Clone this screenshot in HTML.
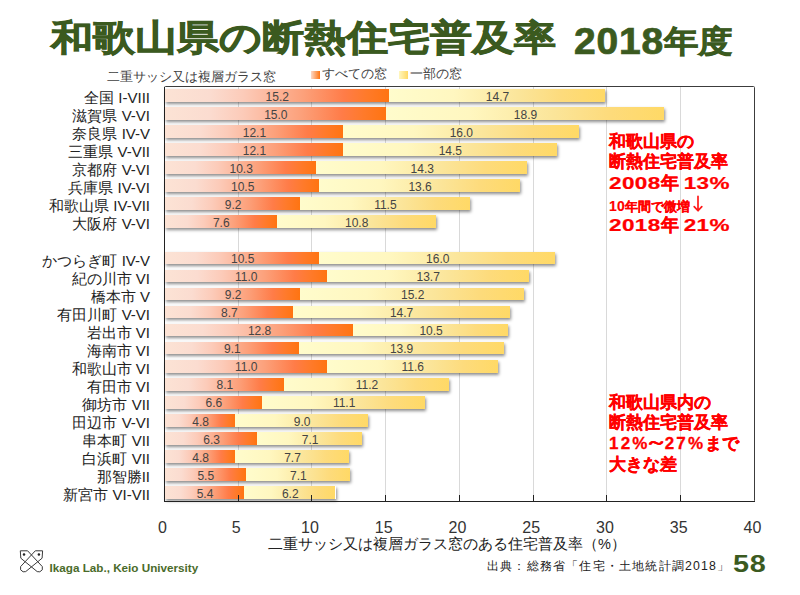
<!DOCTYPE html>
<html><head><meta charset="utf-8"><style>
*{margin:0;padding:0;box-sizing:border-box}
html,body{width:800px;height:595px;overflow:hidden;background:#fff}
body{position:relative;font-family:"Liberation Sans",sans-serif;color:#222}
.abs{position:absolute;white-space:nowrap}
#title{left:50.6px;top:17.3px;font-size:42px;font-weight:bold;color:#3b5a1f;line-height:50px;transform:scaleY(0.855);transform-origin:0 0;-webkit-text-stroke:0.9px #3b5a1f}
#title2{left:574px;top:18px;font-size:35.5px;font-weight:bold;color:#3b5a1f;line-height:42px;-webkit-text-stroke:0.8px #3b5a1f}
#title2 .d{display:inline-block;font-size:39px;letter-spacing:0.8px;transform:scaleY(0.93);transform-origin:0 85%;position:relative;top:1.5px}
#title2 .k{display:inline-block;font-size:34px;transform:scaleY(0.9);transform-origin:0 70%}
.leg{position:absolute;top:67.3px;font-size:12.6px;line-height:18px;color:#404040;white-space:nowrap}
.sw{position:absolute;top:70.5px;width:8.5px;height:8.5px}
#plot{position:absolute;left:164.4px;top:86.6px;width:590px;height:414.8px}
.gl{position:absolute;top:86.6px;height:414.8px;width:1px;background:#d9d9d9}
.bar{position:absolute;left:165.0px;height:12.8px;box-shadow:1px 2px 3px rgba(0,0,0,.45)}
.o,.y{position:absolute;top:0;height:100%;text-align:center;font-size:12px;line-height:12.8px;color:#444}
.o{left:0;background:linear-gradient(to right,#fce3d5 0%,#fbdcd0 20%,#fccbb9 35%,#fca07a 62%,#ff7c48 80%,#ff7a2a 90%,#ff7411 100%)}
.y{background:linear-gradient(to right,#fffccc 0%,#fff7c0 30%,#fbe59a 60%,#fddb7c 80%,#ffd966 100%)}
.o span,.y span{position:relative;top:1.7px;left:0.5px}
.cl{position:absolute;right:650px;font-size:15px;line-height:12.8px;color:#222;white-space:nowrap}
.tk{position:absolute;top:495px;width:1.2px;height:6.5px;background:#222}
.xl{position:absolute;top:518px;width:40px;text-align:center;font-size:16px;line-height:20px;color:#333}
#frame{position:absolute;left:163.65px;top:85.85px;width:591.5px;height:416.3px;border:1.5px solid #3c3c3c;border-radius:1.5px}
#axl{position:absolute;left:163.65px;top:86.6px;width:1.5px;height:414.8px;background:#222}
#axb{position:absolute;left:163.65px;top:500.65px;width:591.5px;height:1.5px;background:#222}
#xt{left:268px;top:536px;font-size:14.5px;line-height:16px;color:#222}
.red{position:absolute;left:609px;color:#ff0000;font-weight:bold;white-space:nowrap;-webkit-text-stroke:0.3px #f00}
.r3{font-size:18px;line-height:22px}
.r3 .d{display:inline-block;font-size:22.5px;letter-spacing:0.4px;transform:scaleY(0.77);transform-origin:0 72%}
.d2{letter-spacing:2.2px}
.tl{display:inline-block;font-size:22px;line-height:16px;transform:scaleY(0.8);letter-spacing:-2px;margin:0 0 0 -5px}
.ar{font-weight:normal;font-size:15px;-webkit-text-stroke:0}
#logo{left:18px;top:548px}
#lab{left:49.5px;top:562px;font-size:11.7px;font-weight:bold;color:#4a6b2a;line-height:12px}
#src{left:487px;top:559px;font-size:12.3px;line-height:14px;color:#222;letter-spacing:1.2px}
#pg{left:732.5px;top:550px;font-size:24px;font-weight:bold;color:#3b5a1f;line-height:28px;letter-spacing:0.6px;transform:scaleX(1.2);transform-origin:0 0}
</style></head><body>
<div class="abs" id="title">和歌山県の断熱住宅普及率</div>
<div class="abs" id="title2"><span class="d">2018</span><span class="k">年度</span></div>
<div class="leg" style="left:107px;top:67.8px">二重サッシ又は複層ガラス窓</div>
<div class="sw" style="left:311.3px;background:linear-gradient(to right,#fcd8c8,#ff7411)"></div>
<div class="leg" style="left:322px;top:64.5px">すべての窓</div>
<div class="sw" style="left:399px;background:linear-gradient(to right,#fff7c0,#ffd966)"></div>
<div class="leg" style="left:409.5px;top:64.5px">一部の窓</div>
<div class="gl" style="left:237.65px"></div><div class="gl" style="left:311.4px"></div><div class="gl" style="left:385.15px"></div><div class="gl" style="left:458.9px"></div><div class="gl" style="left:532.65px"></div><div class="gl" style="left:606.4px"></div><div class="gl" style="left:680.15px"></div>
<div id="frame"></div>
<div id="axl"></div>
<div class="bar" style="top:89.2px;width:440.42px"><div class="o" style="width:223.6px"><span>15.2</span></div><div class="y" style="left:223.6px;width:216.82px"><span>14.7</span></div></div><div class="bar" style="top:107.23px;width:499.42px"><div class="o" style="width:220.65px"><span>15.0</span></div><div class="y" style="left:220.65px;width:278.77px"><span>18.9</span></div></div><div class="bar" style="top:125.27px;width:413.88px"><div class="o" style="width:177.88px"><span>12.1</span></div><div class="y" style="left:177.88px;width:236px"><span>16.0</span></div></div><div class="bar" style="top:143.3px;width:391.75px"><div class="o" style="width:177.88px"><span>12.1</span></div><div class="y" style="left:177.88px;width:213.88px"><span>14.5</span></div></div><div class="bar" style="top:161.34px;width:362.25px"><div class="o" style="width:151.33px"><span>10.3</span></div><div class="y" style="left:151.33px;width:210.93px"><span>14.3</span></div></div><div class="bar" style="top:179.37px;width:354.88px"><div class="o" style="width:154.28px"><span>10.5</span></div><div class="y" style="left:154.28px;width:200.6px"><span>13.6</span></div></div><div class="bar" style="top:197.41px;width:304.72px"><div class="o" style="width:135.1px"><span>9.2</span></div><div class="y" style="left:135.1px;width:169.62px"><span>11.5</span></div></div><div class="bar" style="top:215.44px;width:270.8px"><div class="o" style="width:111.5px"><span>7.6</span></div><div class="y" style="left:111.5px;width:159.3px"><span>10.8</span></div></div><div class="bar" style="top:251.51px;width:390.27px"><div class="o" style="width:154.28px"><span>10.5</span></div><div class="y" style="left:154.28px;width:236px"><span>16.0</span></div></div><div class="bar" style="top:269.55px;width:363.72px"><div class="o" style="width:161.65px"><span>11.0</span></div><div class="y" style="left:161.65px;width:202.07px"><span>13.7</span></div></div><div class="bar" style="top:287.58px;width:359.3px"><div class="o" style="width:135.1px"><span>9.2</span></div><div class="y" style="left:135.1px;width:224.2px"><span>15.2</span></div></div><div class="bar" style="top:305.62px;width:344.55px"><div class="o" style="width:127.72px"><span>8.7</span></div><div class="y" style="left:127.72px;width:216.82px"><span>14.7</span></div></div><div class="bar" style="top:323.65px;width:343.07px"><div class="o" style="width:188.2px"><span>12.8</span></div><div class="y" style="left:188.2px;width:154.88px"><span>10.5</span></div></div><div class="bar" style="top:341.69px;width:338.65px"><div class="o" style="width:133.62px"><span>9.1</span></div><div class="y" style="left:133.62px;width:205.03px"><span>13.9</span></div></div><div class="bar" style="top:359.72px;width:332.75px"><div class="o" style="width:161.65px"><span>11.0</span></div><div class="y" style="left:161.65px;width:171.1px"><span>11.6</span></div></div><div class="bar" style="top:377.76px;width:284.07px"><div class="o" style="width:118.88px"><span>8.1</span></div><div class="y" style="left:118.88px;width:165.2px"><span>11.2</span></div></div><div class="bar" style="top:395.79px;width:260.47px"><div class="o" style="width:96.75px"><span>6.6</span></div><div class="y" style="left:96.75px;width:163.72px"><span>11.1</span></div></div><div class="bar" style="top:413.83px;width:202.95px"><div class="o" style="width:70.2px"><span>4.8</span></div><div class="y" style="left:70.2px;width:132.75px"><span>9.0</span></div></div><div class="bar" style="top:431.86px;width:197.05px"><div class="o" style="width:92.33px"><span>6.3</span></div><div class="y" style="left:92.33px;width:104.72px"><span>7.1</span></div></div><div class="bar" style="top:449.9px;width:183.78px"><div class="o" style="width:70.2px"><span>4.8</span></div><div class="y" style="left:70.2px;width:113.58px"><span>7.7</span></div></div><div class="bar" style="top:467.93px;width:185.25px"><div class="o" style="width:80.53px"><span>5.5</span></div><div class="y" style="left:80.53px;width:104.72px"><span>7.1</span></div></div><div class="bar" style="top:485.97px;width:170.5px"><div class="o" style="width:79.05px"><span>5.4</span></div><div class="y" style="left:79.05px;width:91.45px"><span>6.2</span></div></div>
<div id="axb"></div>
<div class="tk" style="left:237.55px"></div><div class="tk" style="left:311.3px"></div><div class="tk" style="left:385.05px"></div><div class="tk" style="left:458.8px"></div><div class="tk" style="left:532.55px"></div><div class="tk" style="left:606.3px"></div><div class="tk" style="left:680.05px"></div>
<div class="cl" style="top:92.2px">全国 I-VIII</div><div class="cl" style="top:110.23px">滋賀県 V-VI</div><div class="cl" style="top:128.27px">奈良県 IV-V</div><div class="cl" style="top:146.3px">三重県 V-VII</div><div class="cl" style="top:164.34px">京都府 V-VI</div><div class="cl" style="top:182.37px">兵庫県 IV-VI</div><div class="cl" style="top:200.41px">和歌山県 IV-VII</div><div class="cl" style="top:218.44px">大阪府 V-VI</div><div class="cl" style="top:254.51px">かつらぎ町 IV-V</div><div class="cl" style="top:272.55px">紀の川市 VI</div><div class="cl" style="top:290.58px">橋本市 V</div><div class="cl" style="top:308.62px">有田川町 V-VI</div><div class="cl" style="top:326.65px">岩出市 VI</div><div class="cl" style="top:344.69px">海南市 VI</div><div class="cl" style="top:362.72px">和歌山市 VI</div><div class="cl" style="top:380.76px">有田市 VI</div><div class="cl" style="top:398.79px">御坊市 VII</div><div class="cl" style="top:416.83px">田辺市 V-VI</div><div class="cl" style="top:434.86px">串本町 VII</div><div class="cl" style="top:452.9px">白浜町 VII</div><div class="cl" style="top:470.93px">那智勝II</div><div class="cl" style="top:488.97px">新宮市 VI-VII</div>
<div class="xl" style="left:142.4px">0</div><div class="xl" style="left:216.15px">5</div><div class="xl" style="left:289.9px">10</div><div class="xl" style="left:363.65px">15</div><div class="xl" style="left:437.4px">20</div><div class="xl" style="left:511.15px">25</div><div class="xl" style="left:584.9px">30</div><div class="xl" style="left:658.65px">35</div><div class="xl" style="left:732.4px">40</div>
<div class="abs" id="xt">二重サッシ又は複層ガラス窓のある住宅普及率（%）</div>
<div class="red" style="top:131.5px;font-size:17px;line-height:20px">和歌山県の<br>断熱住宅普及率</div>
<div class="red r3" style="top:171px"><span class="d">2008</span>年 <span class="d">13%</span></div>
<div class="red" style="top:197.5px;font-size:13px;line-height:16px;-webkit-text-stroke:0.15px #f00"><span style="font-size:14px;letter-spacing:0.3px">10</span>年間で微増</div>
<svg class="abs" style="left:690px;top:194px" width="16" height="20" viewBox="0 0 16 20"><path d="M8,2.3 V16.6 M4.2,12.6 L8,16.8 L11.8,12.6" fill="none" stroke="#ff1a1a" stroke-width="1.7" stroke-linecap="round" stroke-linejoin="round"/></svg>
<div class="red r3" style="top:213px"><span class="d">2018</span>年 <span class="d">21%</span></div>
<div class="red" style="top:392.5px;font-size:17px;line-height:20.7px">和歌山県内の<br>断熱住宅普及率<br><span class="d2">12%</span><span class="tl">～</span><span class="d2">27%</span>まで<br>大きな差</div>
<svg class="abs" id="logo" width="28" height="27" viewBox="0 0 28 27"><g fill="none" stroke="#3a3a3a" stroke-width="1" stroke-linejoin="round"><path d="M2.3,2.8 L9.6,2.8 L24.3,18.6 L24.3,21.8 L21.8,23.8 L19.2,23.6 L2.8,10.2 Z"/><path d="M24.6,2.8 L17.3,2.8 L2.6,18.6 L2.6,21.8 L5.1,23.8 L7.7,23.6 L24.1,10.2 Z"/></g><circle cx="6" cy="6.600000000000023" r="1.25" fill="#222"/><circle cx="20.9" cy="6.600000000000023" r="1.25" fill="#222"/></svg>
<div class="abs" id="lab">Ikaga Lab., Keio University</div>
<div class="abs" id="src">出典：総務省「住宅・土地統計調2018」</div>
<div class="abs" id="pg">58</div>
</body></html>
